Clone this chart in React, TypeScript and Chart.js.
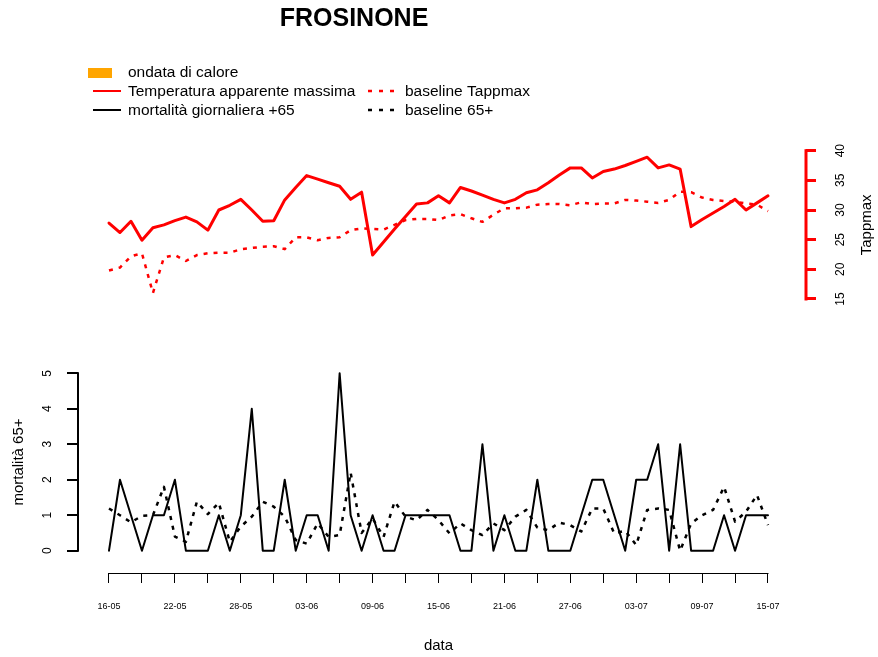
import React, { useEffect, useRef } from "react";
import { Chart, registerables } from "chart.js";

Chart.register(...registerables);

const FONT = "'Liberation Sans', Arial, Helvetica, sans-serif";

// x tick labels (every 6 days, day index 0 = 16-05)
const xTickLabels = ["16-05", "22-05", "28-05", "03-06", "09-06", "15-06", "21-06", "27-06", "03-07", "09-07", "15-07"];
const tempTicks = [15, 20, 25, 30, 35, 40];
const mortTicks = [0, 1, 2, 3, 4, 5];

// Temperatura apparente massima (daily, 16-05 .. 15-07)
const tappmax = [
  27.8, 26.2, 28.1, 24.9, 27.0, 27.5, 28.2, 28.8, 28.0, 26.6,
  30.0, 30.8, 31.8, 30.0, 28.1, 28.2, 31.7, 33.8, 35.8, 35.2,
  34.6, 34.0, 31.8, 33.0, 22.4, 24.6, 26.8, 28.9, 31.0, 31.2,
  32.4, 31.2, 33.8, 33.2, 32.5, 31.8, 31.2, 31.8, 32.9, 33.4,
  34.6, 35.9, 37.1, 37.1, 35.4, 36.5, 36.9, 37.5, 38.2, 38.9,
  37.1, 37.6, 36.9, 27.2, 28.4, 29.5, 30.6, 31.8, 30.0, 31.2,
  32.4,
];

// baseline Tappmax
const baselineTappmax = [
  19.8, 20.3, 22.2, 22.7, 16.0, 22.0, 22.4, 21.4, 22.4, 22.7,
  22.8, 22.8, 23.4, 23.6, 23.8, 23.9, 23.4, 25.4, 25.4, 24.9,
  25.3, 25.4, 26.6, 26.9, 26.8, 26.7, 27.5, 28.3, 28.5, 28.5,
  28.3, 29.1, 29.3, 28.6, 28.0, 29.2, 30.3, 30.3, 30.4, 30.9,
  31.0, 31.0, 30.8, 31.3, 31.0, 31.1, 31.1, 31.7, 31.6, 31.4,
  31.2, 31.7, 33.1, 33.0, 32.1, 31.7, 31.5, 31.4, 31.1, 30.9,
  29.8,
];

// mortalità giornaliera +65
const mortality = [
  0, 2, 1, 0, 1, 1, 2, 0, 0, 0,
  1, 0, 1, 4, 0, 0, 2, 0, 1, 1,
  0, 5, 1, 0, 1, 0, 0, 1, 1, 1,
  1, 1, 0, 0, 3, 0, 1, 0, 0, 2,
  0, 0, 0, 1, 2, 2, 1, 0, 2, 2,
  3, 0, 3, 0, 0, 0, 1, 0, 1, 1,
  1,
];

// baseline 65+
const baseline65 = [
  1.19, 1.0, 0.8, 0.98, 1.0, 1.8, 0.4, 0.25, 1.38, 1.03,
  1.35, 0.25, 0.68, 0.96, 1.38, 1.24, 0.96, 0.3, 0.2, 0.77,
  0.39, 0.44, 2.2, 0.5, 0.91, 0.39, 1.38, 0.96, 0.86, 1.15,
  0.86, 0.49, 0.77, 0.58, 0.44, 0.77, 0.58, 0.96, 1.15, 0.65,
  0.58, 0.79, 0.72, 0.54, 1.19, 1.19, 0.49, 0.56, 0.16, 1.15,
  1.19, 1.15, 0.0, 0.77, 1.0, 1.15, 1.8, 0.82, 1.1, 1.57,
  0.72,
];

const toXY = (arr: number[]) => arr.map((v, i) => ({ x: i, y: v }));

const decorPlugin = {
  id: "decor",
  afterDraw(chart: any) {
    const ctx = chart.ctx;
    const ca = chart.chartArea;
    const sx = chart.scales.x;
    const s1 = chart.scales.y1;
    const s2 = chart.scales.y2;
    ctx.save();

    // Title
    ctx.fillStyle = "#000";
    ctx.font = `bold 25px ${FONT}`;
    ctx.textAlign = "center";
    ctx.textBaseline = "middle";
    ctx.fillText("FROSINONE", 354, 19);

    // Legend
    ctx.font = `15.5px ${FONT}`;
    ctx.textAlign = "left";
    ctx.fillStyle = "#FFA500";
    ctx.fillRect(88, 68, 24, 10);
    ctx.fillStyle = "#000";
    ctx.fillText("ondata di calore", 128, 73);
    ctx.fillText("Temperatura apparente massima", 128, 91.5);
    ctx.fillText("mortalità giornaliera +65", 128, 110.5);
    ctx.fillText("baseline Tappmax", 405, 91.5);
    ctx.fillText("baseline 65+", 405, 110.5);

    const seg = (x1: number, x2: number, y: number, color: string, w: number, dash: number[]) => {
      ctx.beginPath();
      ctx.setLineDash(dash);
      ctx.strokeStyle = color;
      ctx.lineWidth = w;
      ctx.moveTo(x1, y);
      ctx.lineTo(x2, y);
      ctx.stroke();
    };
    seg(93, 121, 91, "#FF0000", 2, []);
    seg(93, 121, 110, "#000", 2, []);
    seg(368, 399, 91, "#FF0000", 2.5, [4, 7]);
    seg(368, 399, 110, "#000", 2.5, [4, 7]);
    ctx.setLineDash([]);

    // Axis lines
    ctx.lineCap = "butt";
    ctx.beginPath();
    ctx.strokeStyle = "#FF0000";
    ctx.lineWidth = 3;
    ctx.moveTo(ca.right, s1.getPixelForValue(tempTicks[0]) + 1.5);
    ctx.lineTo(ca.right, s1.getPixelForValue(tempTicks[tempTicks.length - 1]) - 1.5);
    ctx.stroke();

    ctx.beginPath();
    ctx.strokeStyle = "#000";
    ctx.lineWidth = 2;
    ctx.moveTo(ca.left, s2.getPixelForValue(mortTicks[0]) + 1);
    ctx.lineTo(ca.left, s2.getPixelForValue(mortTicks[mortTicks.length - 1]) - 1);
    ctx.stroke();

    ctx.beginPath();
    ctx.strokeStyle = "#000";
    ctx.lineWidth = 1;
    ctx.moveTo(sx.getPixelForValue(0) - 0.5, ca.bottom + 0.5);
    ctx.lineTo(sx.getPixelForValue(60) + 0.5, ca.bottom + 0.5);
    ctx.stroke();

    // Axis titles
    ctx.fillStyle = "#000";
    ctx.font = `15px ${FONT}`;
    ctx.textAlign = "center";
    ctx.textBaseline = "middle";
    ctx.fillText("data", (sx.getPixelForValue(0) + sx.getPixelForValue(60)) / 2, 646);

    ctx.save();
    ctx.translate(867, (s1.getPixelForValue(15) + s1.getPixelForValue(40)) / 2);
    ctx.rotate(-Math.PI / 2);
    ctx.fillText("Tappmax", 0, 0);
    ctx.restore();

    ctx.save();
    ctx.translate(19, (s2.getPixelForValue(0) + s2.getPixelForValue(5)) / 2);
    ctx.rotate(-Math.PI / 2);
    ctx.fillText("mortalità 65+", 0, 0);
    ctx.restore();

    ctx.restore();
  },
};

export default function App() {
  const canvasRef = useRef<HTMLCanvasElement | null>(null);

  useEffect(() => {
    const canvas = canvasRef.current;
    if (!canvas) return;
    Chart.defaults.font.family = FONT;

    const chart = new Chart(canvas, {
      type: "line",
      data: {
        datasets: [
          {
            label: "Temperatura apparente massima",
            data: toXY(tappmax),
            yAxisID: "y1",
            borderColor: "#FF0000",
            borderWidth: 3,
            borderJoinStyle: "round",
            borderCapStyle: "round",
            pointRadius: 0,
            tension: 0,
            fill: false,
          },
          {
            label: "baseline Tappmax",
            data: toXY(baselineTappmax),
            yAxisID: "y1",
            borderColor: "#FF0000",
            borderWidth: 2.5,
            borderDash: [4, 6],
            borderJoinStyle: "round",
            pointRadius: 0,
            tension: 0,
            fill: false,
          },
          {
            label: "mortalità giornaliera +65",
            data: toXY(mortality),
            yAxisID: "y2",
            borderColor: "#000000",
            borderWidth: 2,
            borderJoinStyle: "round",
            borderCapStyle: "round",
            pointRadius: 0,
            tension: 0,
            fill: false,
          },
          {
            label: "baseline 65+",
            data: toXY(baseline65),
            yAxisID: "y2",
            borderColor: "#000000",
            borderWidth: 2.5,
            borderDash: [4, 6],
            borderJoinStyle: "round",
            pointRadius: 0,
            tension: 0,
            fill: false,
          },
        ],
      },
      options: {
        responsive: false,
        animation: false,
        events: [],
        layout: { padding: { top: 140, left: 0, right: 0, bottom: 0 } },
        plugins: {
          legend: { display: false },
          title: { display: false },
          tooltip: { enabled: false },
        },
        scales: {
          x: {
            type: "linear",
            position: "bottom",
            min: -2.822,
            max: 63.46,
            afterBuildTicks: (s: any) => {
              const t: any[] = [];
              for (let i = 0; i <= 60; i += 3) t.push({ value: i });
              s.ticks = t;
            },
            afterFit: (s: any) => {
              s.height = 84;
            },
            border: { display: false },
            grid: {
              display: true,
              drawOnChartArea: false,
              drawTicks: true,
              tickLength: 10,
              color: "#000",
              lineWidth: 1,
            },
            ticks: {
              autoSkip: false,
              maxRotation: 0,
              minRotation: 0,
              padding: 18,
              color: "#000",
              font: { size: 9 },
              callback: (v: any) => {
                const i = Math.round(Number(v));
                return i % 6 === 0 ? xTickLabels[i / 6] : "";
              },
            },
          },
          y1: {
            type: "linear",
            position: "right",
            min: -31.19,
            max: 41.8,
            afterBuildTicks: (s: any) => {
              s.ticks = tempTicks.map((v) => ({ value: v }));
            },
            afterFit: (s: any) => {
              s.width = 72;
            },
            border: { display: false },
            grid: {
              display: true,
              drawOnChartArea: false,
              drawTicks: true,
              tickLength: 10,
              color: "#FF0000",
              lineWidth: 3,
            },
            ticks: {
              minRotation: 90,
              maxRotation: 90,
              crossAlign: "center",
              padding: 18,
              color: "#000",
              font: { size: 12 },
              callback: (v: any) => String(v),
            },
          },
          y2: {
            type: "linear",
            position: "left",
            min: -0.6285,
            max: 11.576,
            afterBuildTicks: (s: any) => {
              s.ticks = mortTicks.map((v) => ({ value: v }));
            },
            afterFit: (s: any) => {
              s.width = 78;
            },
            border: { display: false },
            grid: {
              display: true,
              drawOnChartArea: false,
              drawTicks: true,
              tickLength: 11,
              color: "#000",
              lineWidth: 2,
            },
            ticks: {
              minRotation: 90,
              maxRotation: 90,
              crossAlign: "center",
              padding: 16,
              color: "#000",
              font: { size: 12 },
              callback: (v: any) => String(v),
            },
          },
        },
      },
      plugins: [decorPlugin],
    } as any);

    return () => {
      chart.destroy();
    };
  }, []);

  return (
    <div style={{ position: "absolute", left: 0, top: 0, width: 878, height: 657, background: "#fff" }}>
      <canvas ref={canvasRef} width={878} height={657} style={{ display: "block" }} />
    </div>
  );
}
